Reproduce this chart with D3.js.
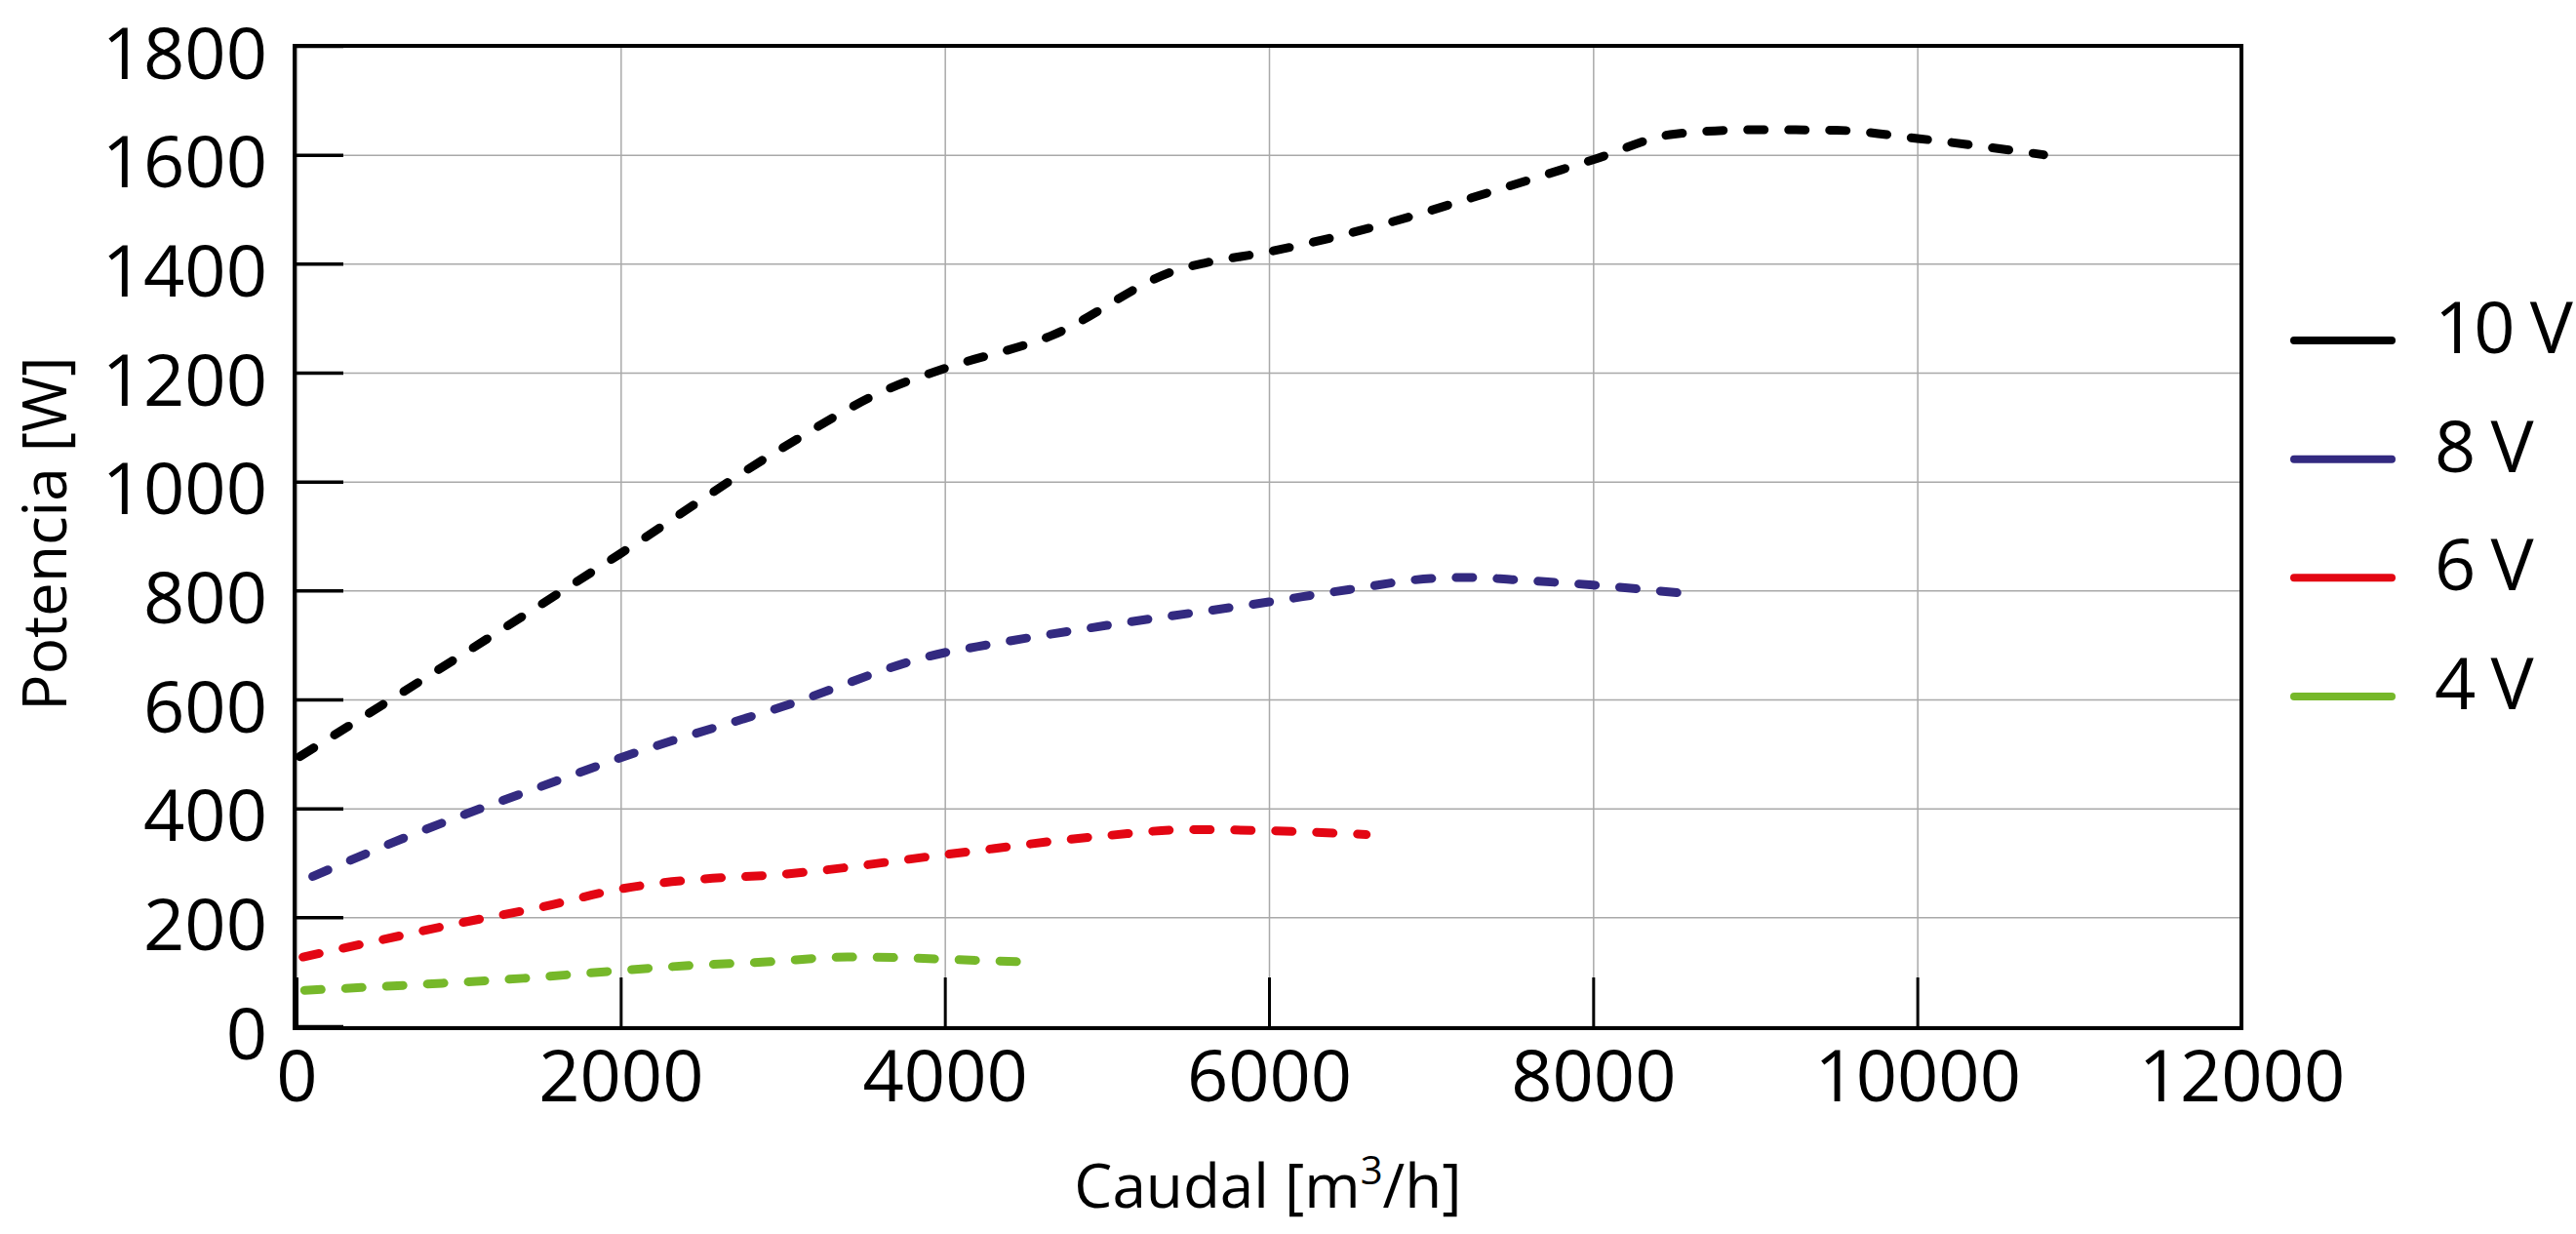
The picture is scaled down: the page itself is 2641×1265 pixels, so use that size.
<!DOCTYPE html>
<html>
<head>
<meta charset="utf-8">
<script src="https://cdn.jsdelivr.net/npm/d3@7"></script>
<style>
  html, body { margin: 0; padding: 0; background: #fff; }
  svg { display: block; font-family: "Open Sans", sans-serif; }
  .grid line { stroke: #a9a9a9; stroke-width: 1.5; }
  .grid path { display: none; }
  .axis path { display: none; }
  .axis line { stroke: #000; }
  .axis text { font-family: "Open Sans", sans-serif; font-size: 74px; fill: #000; }
</style>
</head>
<body>
<div id="chart"></div>
<script>
{
  const width = 2641;
  const height = 1265;

  // caudal [m3/h], potencia [W]
  const caudal10 = [20, 1000, 2000, 3000, 3650, 4000, 4650, 5450, 5600, 6000, 6750, 7250, 8000, 8500, 9000, 9500, 10000, 10780];
  const potencia10 = [495, 678, 868, 1062, 1170, 1208, 1267, 1390, 1401, 1422, 1476, 1521, 1591, 1638, 1646, 1645, 1630, 1600];

  const caudal8 = [100, 700, 1600, 2000, 3000, 4000, 4200, 5000, 6000, 6500, 7000, 7250, 7500, 8000, 8650];
  const potencia8 = [275, 350, 450, 493, 587, 686, 697, 736, 779, 802, 822, 824, 820, 810, 792];

  const caudal6 = [40, 500, 1000, 1500, 2000, 2250, 2500, 3000, 4000, 5000, 5500, 6000, 6600];
  const potencia6 = [127, 157, 189, 218, 252, 263, 270, 279, 315, 350, 361, 359, 352];

  const caudal4 = [50, 400, 900, 1400, 1900, 2400, 2900, 3400, 3700, 4000, 4500];
  const potencia4 = [66, 71, 79, 88, 100, 111, 118, 127, 126, 123, 118];

  const seriesNames = ['10 V', '8 V', '6 V', '4 V'];
  const seriesColors = ['#000000', '#332a80', '#e30613', '#76b82a'];

  const xTicks = [0, 2000, 4000, 6000, 8000, 10000, 12000];
  const yTicks = [0, 200, 400, 600, 800, 1000, 1200, 1400, 1600, 1800];

  const series = [
    [caudal10, potencia10],
    [caudal8, potencia8],
    [caudal6, potencia6],
    [caudal4, potencia4],
  ].map(([xs, ys], i) => ({
    name: seriesNames[i],
    color: seriesColors[i],
    values: xs.map((x, j) => ({ x, y: ys[j] })),
  }));

  const left = 304;
  const right = 2298;
  const top = 47;
  const bottom = 1052;

  const x = d3.scaleLinear().domain([0, 12000]).range([left, right]);
  const y = d3.scaleLinear().domain([0, 1800]).range([bottom, top]);
  const fmt = d3.format('d');

  const svg = d3.select('#chart').append('svg')
    .attr('width', width)
    .attr('height', height);

  // grid
  svg.append('g')
    .attr('class', 'grid')
    .attr('transform', `translate(0,${bottom})`)
    .call(d3.axisBottom(x).tickValues(xTicks).tickSize(-(bottom - top)).tickFormat(''));
  svg.append('g')
    .attr('class', 'grid')
    .attr('transform', `translate(${left},0)`)
    .call(d3.axisLeft(y).tickValues(yTicks).tickSize(-(right - left)).tickFormat(''));

  // data lines
  const line = d3.line()
    .x((d) => x(d.x))
    .y((d) => y(d.y))
    .curve(d3.curveMonotoneX);

  svg.append('g')
    .selectAll('path')
    .data(series)
    .join('path')
    .attr('d', (d) => line(d.values))
    .attr('fill', 'none')
    .attr('stroke', (d) => d.color)
    .attr('stroke-width', 9)
    .attr('stroke-linecap', 'round')
    .attr('stroke-dasharray', '17,25');

  // axes with inward ticks
  const xAxis = svg.append('g')
    .attr('class', 'axis')
    .attr('transform', `translate(0,${bottom})`)
    .call(d3.axisBottom(x).tickValues(xTicks).tickFormat(fmt).tickSize(-50).tickPadding(24));
  xAxis.selectAll('line').attr('stroke-width', 3);
  xAxis.selectAll('.tick text').attr('dy', '0.71em');

  const yAxis = svg.append('g')
    .attr('class', 'axis')
    .attr('transform', `translate(${left},0)`)
    .call(d3.axisLeft(y).tickValues(yTicks).tickFormat(fmt).tickSize(-48).tickPadding(30));
  yAxis.selectAll('line').attr('stroke-width', 3.5);
  yAxis.selectAll('.tick text').attr('dy', '0.45em');

  // frame
  svg.append('rect')
    .attr('x', left - 2)
    .attr('y', top)
    .attr('width', right - left + 2)
    .attr('height', bottom - top + 2)
    .attr('fill', 'none')
    .attr('stroke', '#000')
    .attr('stroke-width', 4);

  // axis titles
  const xTitle = svg.append('text')
    .attr('x', 1300)
    .attr('y', 1238)
    .attr('text-anchor', 'middle')
    .attr('font-size', 62)
    .attr('fill', '#000');
  xTitle.append('tspan').text('Caudal [m');
  xTitle.append('tspan').attr('font-size', 40).attr('dy', -24).text('3');
  xTitle.append('tspan').attr('dy', 24).text('/h]');

  svg.append('text')
    .attr('transform', 'translate(68,547) rotate(-90)')
    .attr('text-anchor', 'middle')
    .attr('font-size', 62)
    .attr('fill', '#000')
    .text('Potencia [W]');

  // legend
  const legendY = d3.scalePoint().domain(seriesNames).range([349, 714]);
  const legend = svg.append('g')
    .selectAll('g')
    .data(series)
    .join('g')
    .attr('transform', (d) => `translate(0,${legendY(d.name)})`);
  legend.append('line')
    .attr('x1', 2352)
    .attr('x2', 2452)
    .attr('stroke', (d) => d.color)
    .attr('stroke-width', 8)
    .attr('stroke-linecap', 'round');
  legend.append('text')
    .attr('x', 2496)
    .attr('y', 13)
    .attr('font-size', 74)
    .attr('letter-spacing', -2)
    .attr('fill', '#000')
    .text((d) => d.name);
}
</script>
</body>
</html>
